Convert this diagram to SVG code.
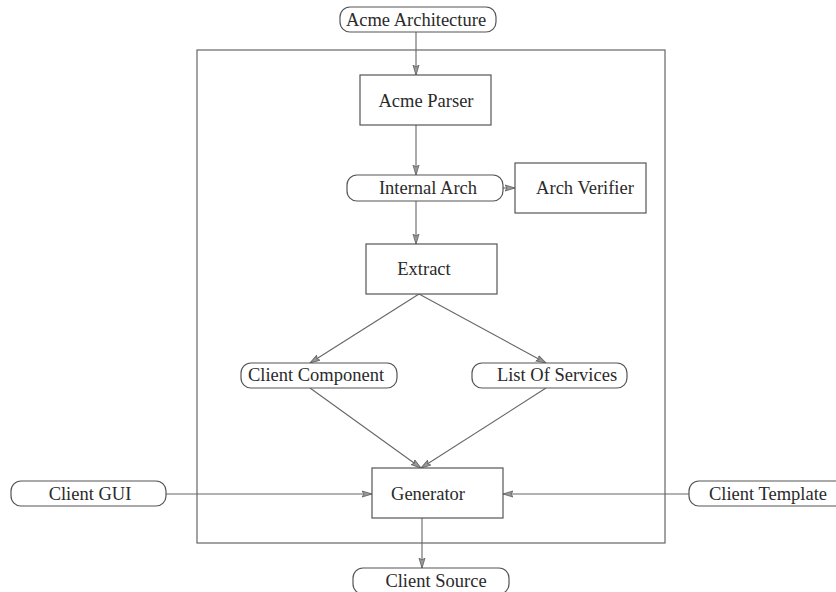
<svg xmlns="http://www.w3.org/2000/svg" width="836" height="592" viewBox="0 0 836 592">
<style>
.box{fill:#fff;stroke:#555;stroke-width:1.2}
.rnd{fill:#fff;stroke:#555;stroke-width:1.2}
.frame{fill:none;stroke:#666;stroke-width:1.2}
.lbl{font-family:"Liberation Serif","Times New Roman",serif;font-size:18.5px;fill:#2a2a2a;text-anchor:middle}
.con{fill:none;stroke:#666;stroke-width:1.1;marker-end:url(#arr)}
</style>
<defs>
<marker id="arr" markerWidth="12" markerHeight="8" refX="10" refY="4" orient="auto" markerUnits="userSpaceOnUse">
<path d="M0,1 L10,4 L0,7 L2,4 Z" fill="#999" stroke="#666" stroke-width="0.9"/>
</marker>
</defs>
<rect class="frame" x="197" y="50" width="468" height="493"/>
<g id="connectors">
<line class="con" x1="416" y1="32" x2="416" y2="75"/>
<line class="con" x1="416" y1="125" x2="416" y2="175"/>
<line class="con" x1="503" y1="188" x2="515" y2="188"/>
<line class="con" x1="416" y1="201" x2="416" y2="244"/>
<line class="con" x1="419" y1="294" x2="310" y2="363"/>
<line class="con" x1="419" y1="294" x2="546" y2="363"/>
<line class="con" x1="310" y1="388" x2="421" y2="468"/>
<line class="con" x1="546" y1="388" x2="421" y2="468"/>
<line class="con" x1="166" y1="494" x2="372" y2="494"/>
<line class="con" x1="689" y1="494" x2="503" y2="494"/>
<line class="con" x1="422" y1="518" x2="422" y2="568"/>
</g>
<g id="acme-architecture">
<rect class="rnd" x="340" y="7" width="156" height="25" rx="10"/>
<text class="lbl" x="416" y="26">Acme Architecture</text>
</g>
<g id="acme-parser">
<rect class="box" x="360" y="75" width="131" height="50"/>
<text class="lbl" x="426" y="107">Acme Parser</text>
</g>
<g id="internal-arch">
<rect class="rnd" x="347" y="175" width="156" height="26" rx="10"/>
<text class="lbl" x="428" y="194">Internal Arch</text>
</g>
<g id="arch-verifier">
<rect class="box" x="515" y="163" width="131" height="50"/>
<text class="lbl" x="585" y="194">Arch Verifier</text>
</g>
<g id="extract">
<rect class="box" x="366" y="244" width="131" height="50"/>
<text class="lbl" x="424" y="275">Extract</text>
</g>
<g id="client-component">
<rect class="rnd" x="241" y="363" width="156" height="25" rx="10"/>
<text class="lbl" x="316" y="381">Client Component</text>
</g>
<g id="list-of-services">
<rect class="rnd" x="472" y="363" width="155" height="25" rx="10"/>
<text class="lbl" x="557" y="381">List Of Services</text>
</g>
<g id="client-gui">
<rect class="rnd" x="11" y="481" width="155" height="25" rx="10"/>
<text class="lbl" x="90" y="500">Client GUI</text>
</g>
<g id="generator">
<rect class="box" x="372" y="468" width="131" height="50"/>
<text class="lbl" x="428" y="500">Generator</text>
</g>
<g id="client-template">
<rect class="rnd" x="689" y="481" width="160" height="25" rx="10"/>
<text class="lbl" x="768" y="500">Client Template</text>
</g>
<g id="client-source">
<rect class="rnd" x="353" y="568" width="156" height="26" rx="10"/>
<text class="lbl" x="436" y="587">Client Source</text>
</g>
</svg>
